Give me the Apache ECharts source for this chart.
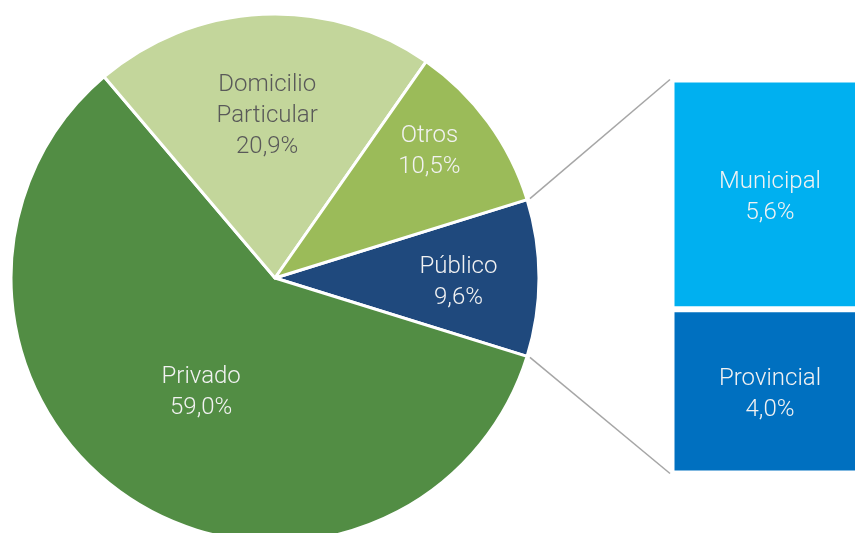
<!DOCTYPE html>
<html>
<head>
<meta charset="utf-8">
<script src="https://cdn.jsdelivr.net/npm/echarts@6/dist/echarts.min.js"></script>
<style>
  html, body { margin: 0; padding: 0; background: #ffffff; }
  #chart { width: 855px; height: 533px; }
</style>
</head>
<body>
<div id="chart"></div>
<script>
// Distribution by sector (percent)
const pieNames = ['Público', 'Privado', 'Domicilio Particular', 'Otros'];
const pieValues = [9.6, 59.0, 20.9, 10.5];

// Breakdown of the "Público" slice
const barNames = ['Provincial', 'Municipal'];
const barValues = [4.0, 5.6];

// Styling
const pieColors = ['#1F497D', '#528D44', '#C3D69B', '#9BBB59'];
const pieLabelColors = ['#F2F2F2', '#F2F2F2', '#595959', '#F2F2F2'];
// label placement per slice: [fraction of radius, angular nudge in degrees]
const labelPlace = [[0.695, -0.6], [0.507, 0], [0.627, 0], [0.763, 3.8]];
const LABEL_DY = 3;
const barColors = ['#0070C0', '#00B0F0'];

const CX = 275, CY = 278, R = 264;
const GRID = { left: 671.5, top: 79.5, width: 197, height: 394 };
const FONT = 'Roboto';
const FONT_SIZE = 24;
const LINE_H = 31;

const total = pieValues.reduce((a, b) => a + b, 0);
const barTotal = barValues.reduce((a, b) => a + b, 0);
const halfAngle = Math.PI * pieValues[0] / total; // Público slice centred on 3 o'clock

// mid-angle of every slice (radians, counter-clockwise from 3 o'clock)
const midAngles = [];
(function () {
  let a = halfAngle;
  pieValues.forEach(v => {
    const span = 2 * Math.PI * v / total;
    midAngles.push(a - span / 2);
    a -= span;
  });
})();

const pct = v => v.toFixed(1).replace('.', ',') + '%';

const chart = echarts.init(document.getElementById('chart'), null, { renderer: 'canvas' });

const option = {
  animation: false,
  backgroundColor: '#ffffff',
  grid: {
    left: GRID.left, top: GRID.top, width: GRID.width, height: GRID.height,
    containLabel: false, outerBoundsMode: 'none'
  },
  xAxis: { type: 'category', data: [''], show: false },
  yAxis: { type: 'value', min: 0, max: barTotal, show: false },
  series: [
    {
      type: 'pie',
      center: [CX, CY],
      radius: [0, R],
      startAngle: halfAngle * 180 / Math.PI,
      clockwise: true,
      avoidLabelOverlap: false,
      silent: true,
      itemStyle: { borderColor: '#ffffff', borderWidth: 3 },
      label: {
        show: true,
        position: 'inside',
        fontFamily: FONT,
        fontWeight: 300,
        fontSize: FONT_SIZE,
        lineHeight: LINE_H,
        align: 'center',
        formatter: p => p.name.split(' ').join('\n') + '\n' + pct(p.value)
      },
      labelLine: { show: false },
      labelLayout: p => {
        const [k, nudge] = labelPlace[p.dataIndex];
        const ang = midAngles[p.dataIndex] + nudge * Math.PI / 180;
        return {
          x: CX + k * R * Math.cos(ang),
          y: CY - k * R * Math.sin(ang) + LABEL_DY,
          align: 'center',
          verticalAlign: 'middle'
        };
      },
      data: pieNames.map((n, i) => ({
        name: n,
        value: pieValues[i],
        itemStyle: { color: pieColors[i] },
        label: { color: pieLabelColors[i] }
      }))
    },
    ...barNames.map((n, i) => ({
      type: 'bar',
      name: n,
      stack: 'publico',
      barWidth: '100%',
      silent: true,
      data: [barValues[i]],
      itemStyle: { color: barColors[i], borderColor: '#ffffff', borderWidth: 3 },
      label: {
        show: true,
        position: 'inside',
        offset: [0, 3],
        color: '#F2F2F2',
        fontFamily: FONT,
        fontWeight: 300,
        fontSize: FONT_SIZE,
        lineHeight: LINE_H,
        formatter: p => p.seriesName + '\n' + pct(p.value)
      }
    }))
  ]
};

chart.setOption(option);

// Connector lines from the edges of the "Público" slice to the bar's corners
const yTop = chart.convertToPixel({ yAxisIndex: 0 }, barTotal);
const yBottom = chart.convertToPixel({ yAxisIndex: 0 }, 0);
const rr = R + 3;
const sx = CX + rr * Math.cos(halfAngle);
const dy = rr * Math.sin(halfAngle);
const ex = GRID.left - 1.5;
chart.setOption({
  graphic: [
    { type: 'line', silent: true, shape: { x1: sx, y1: CY - dy, x2: ex, y2: yTop }, style: { stroke: '#A6A6A6', lineWidth: 1.5 } },
    { type: 'line', silent: true, shape: { x1: sx, y1: CY + dy, x2: ex, y2: yBottom }, style: { stroke: '#A6A6A6', lineWidth: 1.5 } }
  ]
});
</script>
</body>
</html>
